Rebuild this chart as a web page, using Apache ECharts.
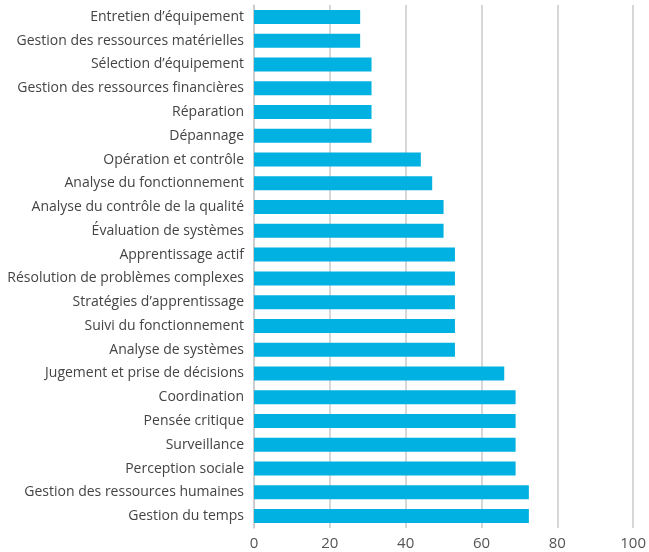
<!DOCTYPE html>
<html>
<head>
<meta charset="utf-8">
<script src="https://cdn.jsdelivr.net/npm/echarts@6/dist/echarts.min.js"></script>
<style>
  html, body { margin: 0; padding: 0; background: #fff; }
  #chart { width: 649px; height: 552px; }
</style>
</head>
<body>
<div id="chart"></div>
<script>
// compétences, du haut vers le bas
var categories = [
    'Entretien d\u2019équipement',
    'Gestion des ressources matérielles',
    'Sélection d\u2019équipement',
    'Gestion des ressources financières',
    'Réparation',
    'Dépannage',
    'Opération et contrôle',
    'Analyse du fonctionnement',
    'Analyse du contrôle de la qualité',
    'Évaluation de systèmes',
    'Apprentissage actif',
    'Résolution de problèmes complexes',
    'Stratégies d\u2019apprentissage',
    'Suivi du fonctionnement',
    'Analyse de systèmes',
    'Jugement et prise de décisions',
    'Coordination',
    'Pensée critique',
    'Surveillance',
    'Perception sociale',
    'Gestion des ressources humaines',
    'Gestion du temps'
];
var values = [28, 28, 31, 31, 31, 31, 44, 47, 50, 50, 53, 53, 53, 53, 53, 66, 69, 69, 69, 69, 72.5, 72.5];
var xTicks = [0, 20, 40, 60, 80, 100];

var myChart = echarts.init(document.getElementById('chart'));

var option = {
    animation: false,
    textStyle: { fontFamily: 'Open Sans' },
    grid: { left: 254, right: 12, top: 5, bottom: 24, containLabel: false },
    xAxis: {
        type: 'value',
        min: xTicks[0],
        max: xTicks[xTicks.length - 1],
        interval: 20,
        axisLine: { show: false },
        axisTick: { show: false },
        splitLine: { lineStyle: { color: '#c9cacd', width: 1.5 } },
        axisLabel: { color: '#555', fontSize: 15, margin: 8 }
    },
    yAxis: {
        type: 'category',
        inverse: true,
        data: categories,
        axisLine: { show: true, lineStyle: { color: '#c9cacd', width: 1.5 } },
        axisTick: { show: false },
        axisLabel: { color: '#444', fontSize: 14, margin: 10 }
    },
    series: [{
        type: 'bar',
        data: values,
        barWidth: 14,
        itemStyle: { color: '#00b1e1' }
    }]
};

myChart.setOption(option);
</script>
</body>
</html>
